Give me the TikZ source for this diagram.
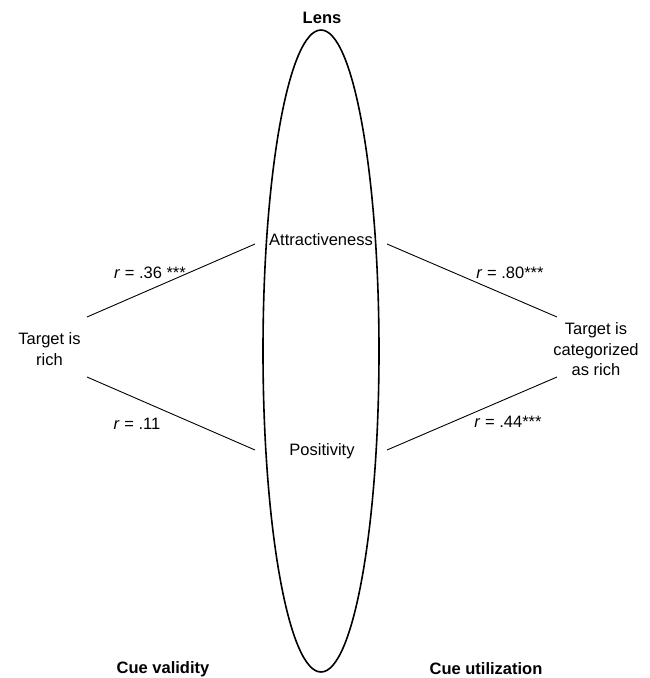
\documentclass[tikz,border=0pt]{standalone}
\usepackage{fontspec}
\setmainfont{Liberation Sans}
\begin{document}
\begin{tikzpicture}[x=1pt,y=-1pt,
  lbl/.style={font=\fontsize{16.5}{20.5}\selectfont, inner sep=0pt, align=center},
  hdr/.style={font=\fontsize{16.5}{20.5}\selectfont\bfseries, inner sep=0pt},
  conn/.style={draw=black, line width=0.9pt},
  lensline/.style={draw=black, line width=1.6pt}]
\useasboundingbox (0,0) rectangle (649,678);
\draw[lensline] (321,351) ellipse [x radius=58, y radius=321];
\node[hdr] (lens) at (322,17.5) {Lens};
\node[hdr] (cv) at (163,669) {Cue validity};
\node[hdr] (cu) at (486,669) {Cue utilization};
\node[lbl] (rich) at (49.5,349) {Target is\\rich};
\node[lbl] (cat) at (596,349.5) {Target is\\categorized\\as rich};
\node[lbl] (attr) at (321,240) {Attractiveness};
\node[lbl] (pos) at (322,451) {Positivity};
\node[lbl] (r1) at (150,272.5) {\textit{r} = .36 ***};
\node[lbl] (r2) at (137,424) {\textit{r} = .11};
\node[lbl] (r3) at (510,272.5) {\textit{r} = .80***};
\node[lbl] (r4) at (508,422) {\textit{r} = .44***};
\coordinate (richA) at (87,317);
\coordinate (richB) at (87,377);
\coordinate (attrL) at (255,244);
\coordinate (attrR) at (387,244);
\coordinate (posL) at (255,450);
\coordinate (posR) at (387,450);
\coordinate (catA) at (557,317);
\coordinate (catB) at (557,377);
\draw[conn] (richA) -- (attrL);
\draw[conn] (richB) -- (posL);
\draw[conn] (attrR) -- (catA);
\draw[conn] (posR) -- (catB);
\end{tikzpicture}
\end{document}
